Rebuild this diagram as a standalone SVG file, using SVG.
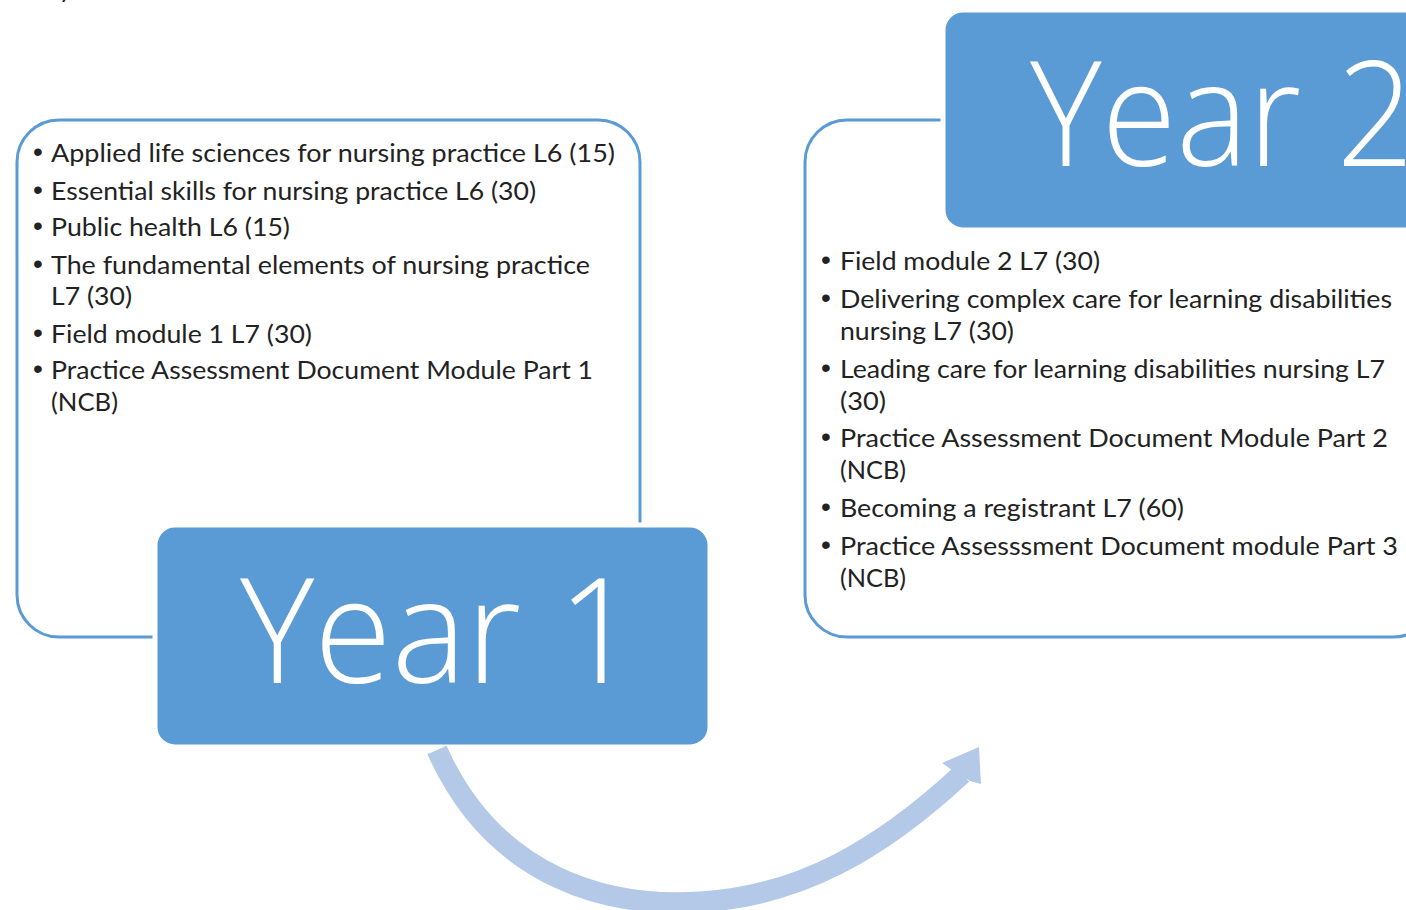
<svg xmlns="http://www.w3.org/2000/svg" width="1406" height="910" viewBox="0 0 1406 910">
<style>
.frame{fill:#fff;stroke:#5B9BD5;stroke-width:3}
.title{fill:#5B9BD5;stroke:#fff;stroke-width:5}
.big{font-family:"Open Sans","Lato",sans-serif;font-weight:300;font-size:146px;fill:#fff}
.t{font-family:"Lato","Open Sans",sans-serif;font-size:25px;fill:#222}
.b{font-family:"Liberation Sans",sans-serif;font-size:28px;fill:#222}
.arrow{fill:none;stroke:#B4C9E7;stroke-width:21}
</style>
<rect width="1406" height="910" fill="#fff"/>
<text class="t" x="59" y="-2">y</text>

<g id="year1-panel">
  <rect class="frame" x="17" y="120" width="623" height="517" rx="42"/>
  <text class="b" x="33" y="161">•</text><text class="t" x="51" y="162" textLength="564" lengthAdjust="spacingAndGlyphs">Applied life sciences for nursing practice L6  (15)</text>
  <text class="b" x="33" y="199">•</text><text class="t" x="51" y="200" textLength="485" lengthAdjust="spacingAndGlyphs">Essential skills for nursing practice L6 (30)</text>
  <text class="b" x="33" y="235">•</text><text class="t" x="51" y="236" textLength="239" lengthAdjust="spacingAndGlyphs">Public health L6 (15)</text>
  <text class="b" x="33" y="273">•</text><text class="t" x="51" y="274" textLength="539" lengthAdjust="spacingAndGlyphs">The fundamental elements of nursing practice</text>
  <text class="t" x="51" y="305" textLength="81" lengthAdjust="spacingAndGlyphs">L7 (30)</text>
  <text class="b" x="33" y="342">•</text><text class="t" x="51" y="343" textLength="261" lengthAdjust="spacingAndGlyphs">Field module 1 L7 (30)</text>
  <text class="b" x="33" y="378">•</text><text class="t" x="51" y="379" textLength="542" lengthAdjust="spacingAndGlyphs">Practice Assessment Document Module Part 1</text>
  <text class="t" x="51" y="411" textLength="67" lengthAdjust="spacingAndGlyphs">(NCB)</text>
</g>
<g id="year1-title">
  <rect class="title" x="155" y="525" width="555" height="222" rx="20"/>
  <text class="big" x="240" y="683" textLength="398" lengthAdjust="spacingAndGlyphs">Year 1</text>
</g>

<g id="year2-panel">
  <rect class="frame" x="805" y="120" width="630" height="517" rx="42"/>
  <text class="b" x="821" y="269">•</text><text class="t" x="840" y="270" textLength="260" lengthAdjust="spacingAndGlyphs">Field module 2 L7 (30)</text>
  <text class="b" x="821" y="307">•</text><text class="t" x="840" y="308" textLength="552" lengthAdjust="spacingAndGlyphs">Delivering complex care for learning disabilities</text>
  <text class="t" x="840" y="340" textLength="174" lengthAdjust="spacingAndGlyphs">nursing L7 (30)</text>
  <text class="b" x="821" y="377">•</text><text class="t" x="840" y="378" textLength="545" lengthAdjust="spacingAndGlyphs">Leading care for learning disabilities nursing L7</text>
  <text class="t" x="840" y="410" textLength="46" lengthAdjust="spacingAndGlyphs">(30)</text>
  <text class="b" x="821" y="446">•</text><text class="t" x="840" y="447" textLength="548" lengthAdjust="spacingAndGlyphs">Practice Assessment  Document Module Part 2</text>
  <text class="t" x="840" y="479" textLength="66" lengthAdjust="spacingAndGlyphs">(NCB)</text>
  <text class="b" x="821" y="516">•</text><text class="t" x="840" y="517" textLength="344" lengthAdjust="spacingAndGlyphs">Becoming a registrant L7 (60)</text>
  <text class="b" x="821" y="554">•</text><text class="t" x="840" y="555" textLength="558" lengthAdjust="spacingAndGlyphs">Practice Assesssment Document  module Part 3</text>
  <text class="t" x="840" y="587" textLength="66" lengthAdjust="spacingAndGlyphs">(NCB)</text>
</g>
<g id="year2-title">
  <rect class="title" x="943" y="10" width="520" height="220" rx="20"/>
  <text class="big" x="1030" y="166" textLength="384" lengthAdjust="spacingAndGlyphs">Year 2</text>
</g>

<g id="connectors">
  <path class="arrow" d="M437,750 C495,880 610,908 700,902 C800,896 880,850 962,774"/>
  <polygon points="979,747 942,763 952,770 970,781 981,784" fill="#B4C9E7"/>
</g>
</svg>
